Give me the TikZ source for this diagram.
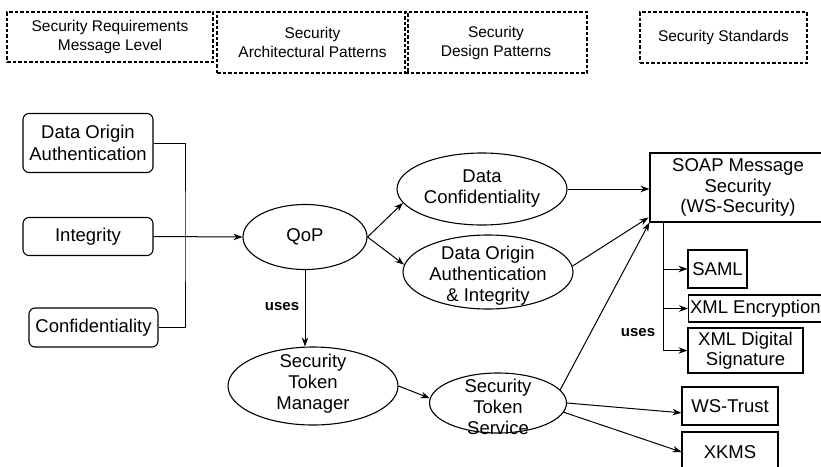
\documentclass[tikz,border=0pt]{standalone}
\usepackage{fontspec}
\setmainfont{Liberation Sans}
\usetikzlibrary{arrows.meta,calc,positioning,shapes.geometric}
\tikzset{
  level box/.style={draw,dash pattern=on 3.5pt off 2pt,line width=1.1pt,inner sep=0pt,align=center,font=\fontsize{15.5}{19}\selectfont},
  req box/.style={draw,rounded corners=6pt,line width=1.1pt,inner sep=0pt,align=center,font=\fontsize{18.5}{22}\selectfont},
  pattern oval/.style={ellipse,draw,line width=1.1pt,inner sep=0pt},
  oval text/.style={align=center,inner sep=0pt,font=\fontsize{18.5}{21}\selectfont},
  std box/.style={draw,line width=1.1pt,inner sep=0pt,align=center,font=\fontsize{18.5}{20.5}\selectfont},
  link edge/.style={-{Stealth[length=9pt,width=6.5pt]},line width=1pt},
  plain edge/.style={line width=1pt},
  uses label/.style={inner sep=0pt,font=\fontsize{15}{18}\bfseries\selectfont},
}

\begin{document}
\begin{tikzpicture}[x=1pt,y=-1pt]
  \useasboundingbox (0,0) rectangle (821,466);
  \clip (0,0) rectangle (821,466);

  \node[level box,minimum width=206,minimum height=50] (lvl) at (110,37) {Security Requirements\\Message Level};
  \node[level box,minimum width=191,minimum height=61] (arch) at (312.5,42.5) {Security\\Architectural Patterns};
  \node[level box,minimum width=182,minimum height=61] (design) at (496,42.5) {Security\\Design Patterns};
  \node[level box,minimum width=167,minimum height=51] (stds) at (723.5,37.5) {Security Standards};

  \node[req box,minimum width=130,minimum height=59] (doa) at (88,143) {Data Origin\\Authentication};
  \node[req box,minimum width=130,minimum height=38] (integ) at (88,236.5) {Integrity};
  \node[req box,minimum width=129,minimum height=39] (conf) at (93.5,327.5) {Confidentiality};

  \node[pattern oval,minimum width=124,minimum height=65] (qop) at (305,237) {};
  \node[oval text] (qop-t) at (qop) {QoP};
  \node[pattern oval,minimum width=170,minimum height=72] (dc) at (482,189) {};
  \node[oval text] (dc-t) at (dc) {Data\\Confidentiality};
  \node[pattern oval,minimum width=170,minimum height=74] (doai) at (488,272) {};
  \node[oval text] (doai-t) at (488,276) {Data Origin\\Authentication\\\& Integrity};
  \node[pattern oval,minimum width=170,minimum height=78] (stm) at (313,386) {};
  \node[oval text] (stm-t) at (313,384) {Security\\Token\\Manager};
  \node[pattern oval,minimum width=137,minimum height=60] (sts) at (498,403) {};
  \node[oval text] (sts-t) at (498,407) {Security\\Token\\Service};

  \node[std box,minimum width=176,minimum height=69] (soap) at (738,187.5) {SOAP Message\\Security\\(WS-Security)};
  \node[std box,minimum width=59,minimum height=38] (saml) at (717.5,269) {SAML};
  \node[std box,anchor=west,minimum height=27,inner xsep=1.5pt] (xmlenc) at (688,308.5) {XML Encryption};
  \node[std box,minimum width=115,minimum height=45] (xmlds) at (745.5,350.5) {XML Digital\\Signature};
  \node[std box,minimum width=96,minimum height=38] (wstrust) at (730,406) {WS-Trust};
  \node[std box,minimum width=96,minimum height=40] (xkms) at (730,452) {XKMS};

  \coordinate (bus) at (185,237);
  \coordinate (tap) at (663,222);
  \draw[plain edge] (doa.east) -| (bus) |- (conf.east);
  \draw[link edge] (integ.east) -- (qop.west);
  \draw[link edge] (qop.east) -- (dc.190);
  \draw[link edge] (qop.east) -- (doai.175);
  \draw[link edge] (qop.south) -- (qop.south |- stm.north);
  \node[uses label] (uses-a) at (282,307) {uses};
  \draw[link edge] (stm.east) -- (sts.176);
  \draw[link edge] (dc.east) -- (dc.east -| soap.west);
  \draw[link edge] (doai.4) -- ($(soap.south west)+(-1,-5)$);
  \draw[link edge] (sts.12) -- (soap.south west);
  \draw[link edge] (sts.east) -- (wstrust.188);
  \draw[link edge] (sts.352) -- (xkms.west);
  \draw[link edge] (tap) |- (xmlds.west);
  \draw[link edge] (tap |- saml.west) -- (saml.west);
  \draw[link edge] (tap |- xmlenc.west) -- (xmlenc.west);
  \node[uses label] (uses-b) at (638,333) {uses};
\end{tikzpicture}
\end{document}
